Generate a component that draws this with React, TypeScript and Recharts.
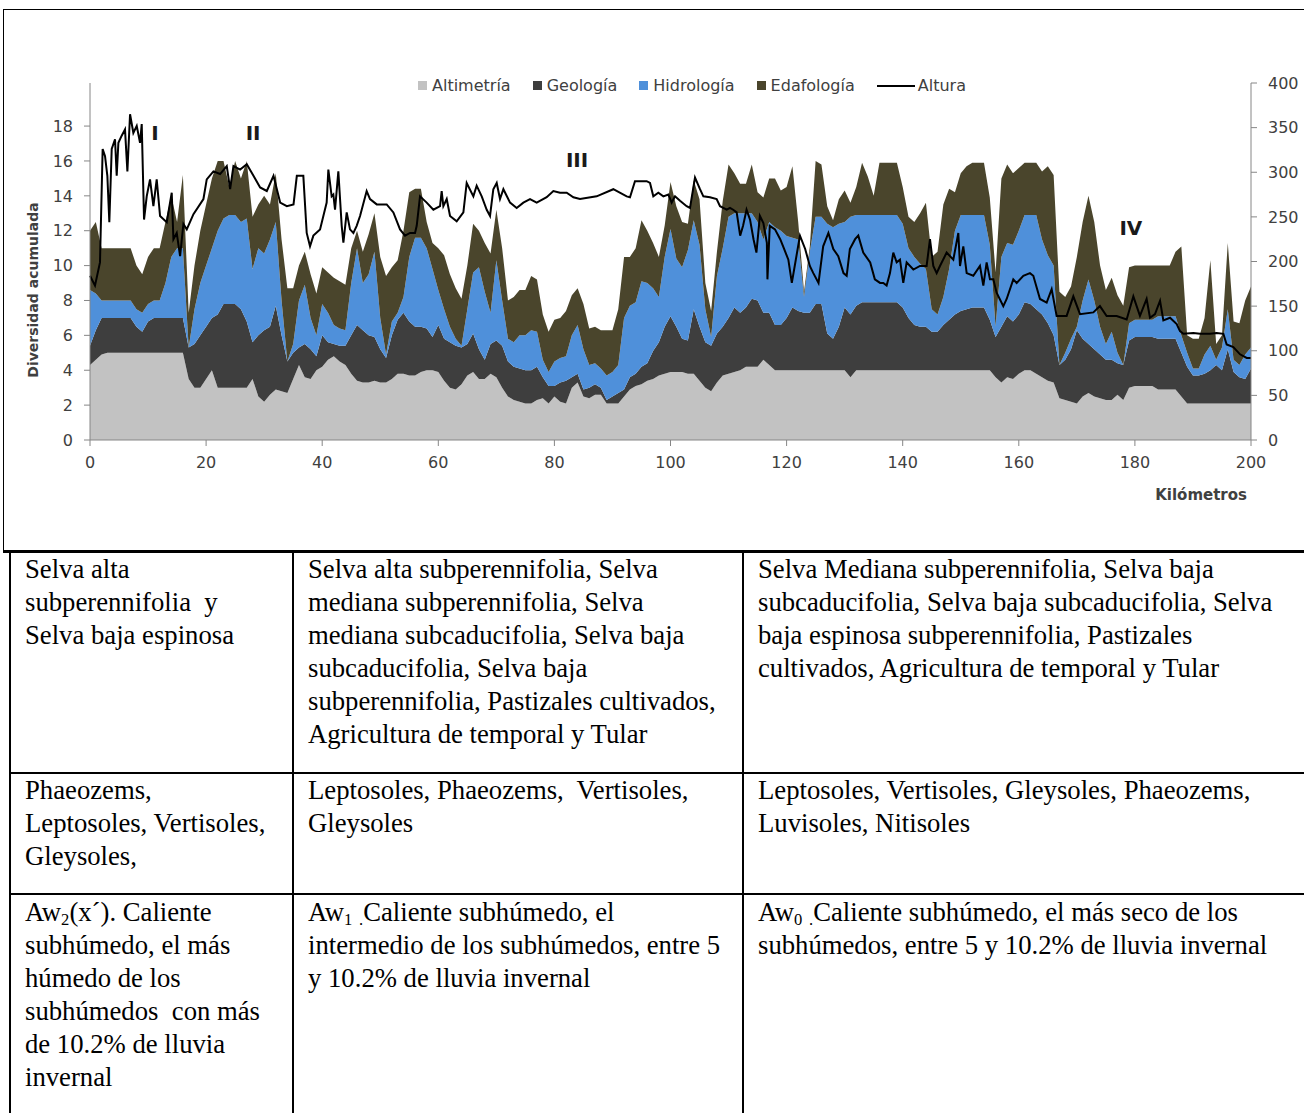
import React from 'react';
import { ComposedChart, Area, Line, XAxis, YAxis, Legend, ReferenceDot } from 'recharts';

// Kilómetros 0..200 (step 1 km) for the stacked layers
const KM: number[] = Array.from({ length: 201 }, (_, i) => i);

const ALTIMETRIA = [
  4.3,4.6,4.9,5,5,5,5,5,5,5,
  5,5,5,5,5,5,5,3.5,3,3,
  3.5,4,3,3,3,3,3,3,3.5,2.5,
  2.2,2.6,2.9,2.8,2.7,3.5,4.3,3.6,3.5,4,
  4.2,4.6,4.8,4.5,4.3,3.8,3.4,3.3,3.3,3.4,
  3.3,3.3,3.5,3.8,3.8,3.7,3.7,3.9,4,4,
  3.9,3.4,3,2.9,3.2,3.7,3.9,3.5,3.5,3.8,
  3.6,3,2.5,2.3,2.2,2.1,2.1,2.3,2.4,2.1,
  2.5,2.2,2.1,3,3.3,2.5,2.4,2.6,2.6,2.1,
  2.1,2.1,2.5,2.9,3.1,3.2,3.4,3.5,3.7,3.8,
  3.9,3.9,3.9,3.8,3.8,3.4,3,2.8,3.3,3.7,
  3.8,3.9,4,4.2,4.2,4.2,4.6,4.3,4,4,
  4,4,4,4,4,4,4,4,4,4,
  4,3.6,4,4,4,4,4,4,4,4,
  4,4,4,4,4,4,4,4,4,4,
  4,4,4,4,4,4,3.6,3.3,3.6,3.5,
  3.8,4,4,3.8,3.6,3.4,3.3,2.4,2.3,2.2,
  2.1,2.5,2.7,2.5,2.4,2.3,2.3,2.6,2.3,3,
  3.1,3.1,3.1,3.1,2.9,2.9,2.9,2.9,2.5,2.1,
  2.1,2.1,2.1,2.1,2.1,2.1,2.1,2.1,2.1,2.1,2.1,
];

const GEOLOGIA = [
  1.1,1.7,2.1,2,2,2,2,2,1.5,1.2,
  1.8,2,2,2,2,2,2,1.8,2.5,3,
  3,3,4.2,4.8,4.8,4.8,4.5,3.8,2.1,3.5,
  4.1,3.9,4.8,3.2,1.8,1.5,1,1.9,1.7,0.8,
  1.8,1,0.7,0.9,1.1,2.2,3.2,3,2.7,2.5,
  1.9,1.4,2.5,3.1,3.5,3.1,2.8,2.6,2.4,1.9,
  2.7,2.4,2.6,2.5,2.1,1.8,2.2,1.7,1.1,1.7,
  2.1,2.4,2,1.9,1.9,1.9,1.9,1.9,1.2,1,
  0.6,1.1,1.3,0.6,0.5,0.4,0.6,0.6,0.4,0.2,
  0.4,0.6,0.4,0.7,0.7,1,1,1.6,1.9,2.7,
  3.2,2.6,1.9,1.9,3.7,3.1,2.6,2.6,2.8,2.8,
  3.2,3.7,3.3,3.4,3.9,3.8,2.7,3,2.6,2.6,
  3,3.6,3.4,3.3,3.3,3.8,3.8,2.1,1.8,2.5,
  3.6,3.6,3.7,3.9,3.9,3.9,3.9,3.9,3.9,3.9,
  3.6,3,2.6,2.5,2.5,2.2,2.2,2.6,2.9,3.2,
  3.4,3.5,3.6,3.6,3.6,2.9,2.3,3.2,3.5,3.3,
  3.4,3.9,3.8,3.7,3.6,3.3,2.7,1.9,2.3,3,
  4.2,3.3,2.8,2.7,2.5,2.3,2.3,1.8,2,2.7,
  2.8,2.8,2.8,2.8,2.9,2.9,2.9,2.9,2.5,2.1,
  1.6,1.6,1.7,1.9,2.2,1.9,3.1,1.8,1.5,1.4,2,
];

const HIDROLOGIA = [
  3.2,2.1,1,1,1,1,1,1,1,1.1,
  1,1,1,2,3.5,4,4,0,2,3,
  3.5,4,4.8,4.9,5.1,5.1,5,5.9,4.2,5,
  4.4,5,4.8,2,0,0.5,2.7,3.4,1.8,1.2,
  1.8,1.7,1.1,1,0.9,3,4.4,2.7,3.5,4.9,
  1.8,0.2,0.8,0.4,0.9,3.7,5.1,5.1,4.6,3.9,
  2,1.7,0.9,0.4,0.1,2,3.5,4.7,3.9,1.8,
  4.6,2.6,1.3,1.4,1.9,2,2.3,2,1,0.8,
  1.4,1.4,1.4,2.4,2.8,2.3,1.3,1.2,1.1,1.4,
  1.4,1.6,4.1,4.1,4.1,4.9,4.6,3.6,2.6,4,
  5,3.9,4.1,5.2,5.1,4.7,1.9,0.5,3.3,4.5,
  5.8,5.4,5.7,5.4,4.9,4.5,4.2,5.2,5.6,5.4,
  4.7,4,4.1,0.9,3.5,5,5,6.3,6.4,5.9,
  4.9,5.6,5.2,5,5,5,5,5,5,5,
  4.8,4,3.9,3.6,3.3,1.3,1,1.6,2.9,4.8,
  5.5,5.4,5.3,5.3,5.3,4.3,0.6,4,4.2,4.4,
  4.8,5,5.1,5.4,4.3,3.9,4,0,0.4,0.6,
  0.2,2.2,3.7,2.8,1.6,0.9,1.6,0.6,0,1,
  1,1,1,1,1.3,1.3,1.3,1.3,1,0.8,
  0.4,0.4,1.1,1.4,0.3,1.3,2.3,0.7,0.7,1.4,1.2,
];

const EDAFOLOGIA = [
  3.4,4.1,3,3,3,3,3,3,2.5,2.2,
  2.7,3,3,3.5,3.5,1.5,4.2,2,2.5,3,
  3.5,4,4,3.3,1.6,3.1,2.5,3.3,3,2.5,
  3.3,2,2.8,3.5,4.2,3.2,2,1.9,2.5,2.4,
  2.1,2.3,2.7,2.7,2.6,2,1,1.8,2.3,2.2,
  3.5,4.5,3.1,3,3.8,3.7,2.8,2.8,1.5,1.5,
  2.4,3.1,3,2.9,2.7,2.5,2.8,2.1,2.8,3.4,
  2.9,3,2.2,2.6,2.6,2.6,3.1,3,2.6,2.3,
  2.4,2.3,2.6,2.3,2.1,2.6,2.1,2.1,2.2,2.6,
  2.4,3.2,3.5,2.8,3.1,3.5,3,2.6,2.3,1.8,
  2.7,3,2.6,1.5,2.3,2.6,1.5,1.5,1.4,2.7,
  3,2.3,1.7,1.7,2.8,1.7,2.4,2.5,2.8,2.3,
  2.8,4.1,1,0.3,0.3,3.2,3,1,0.4,1.4,
  1.8,0.8,1.6,3,2.2,1.1,3,3,3,3,
  2.1,1.8,2,2.9,3.8,3,3.6,5.3,4.6,2.2,
  2.4,2.8,3,3,3,2.7,3.1,4.5,4.5,4.1,
  3.6,3,3,3,3.9,5.1,5.2,4.2,3.2,3,
  4,4.5,4.8,4.5,3.5,3.1,3.1,3.3,3.4,3.2,
  3.1,3.1,3.1,3.1,2.9,2.9,2.9,3.7,5.1,1,
  1.7,1.7,2.1,4.9,0.9,0.7,3.8,2.2,2.4,3.1,3.5,
];

// Altura (m): profile read at irregular kilometre positions
const ALTURA_KM = [
  0,0.86,1.72,2.18,2.59,2.99,3.33,3.74,4.31,4.6,4.89,5.46,6.03,6.44,6.9,7.47,8.05,8.62,8.91,9.31,
  9.77,10.34,10.92,11.49,12.07,13.22,14.08,14.37,14.94,15.52,16.09,16.67,17.82,19.54,20.11,21.26,22.41,23.56,24.14,24.71,
  25.86,27.01,28.16,29.31,30.46,31.61,32.76,33.91,35.06,35.63,36.18,36.75,37.33,37.9,38.48,39.63,40.2,40.77,41.06,41.63,
  41.92,42.21,42.78,43.36,43.65,44.22,44.79,45.37,45.94,46.52,47.66,48.24,49.39,51.11,52.26,53.41,54.27,55.13,55.99,56.28,
  56.85,58,59.15,60.3,60.58,60.87,61.45,62.02,63.17,64.32,64.89,66.04,66.61,67.48,68.34,68.91,69.48,70.06,70.63,71.21,
  72.36,73.5,74.65,75.8,76.95,78.67,79.82,80.97,82.12,83.27,84.41,87.28,90.15,92.45,93.02,93.88,95.89,96.47,97.04,97.9,
  98.77,99.63,100.2,100.78,101.64,102.78,103.36,104.22,105.08,105.66,106.8,107.95,108.53,109.68,110.25,110.8,111.4,112,112.5,113.1,
  113.7,114.3,114.8,115.4,116,116.6,116.7,117.1,118,118.9,119.4,120.3,120.9,121.4,122.3,123.2,124,124.6,125.5,126.3,
  127.2,128.05,128.9,129.8,130.35,130.9,131.8,132.35,133.2,134.4,135.2,136.1,136.66,137.23,137.81,138.38,138.96,139.53,140.1,140.68,
  141.83,142.98,144.12,144.7,145.27,145.85,146.42,147.57,148.72,149.58,149.87,150.44,151.02,152.16,153.31,153.89,154.46,155.03,155.61,156.18,
  157.33,157.91,159.05,159.63,160.78,161.92,162.5,163.65,164.8,165.66,166.52,168.24,169.39,170.54,172.84,173.98,175.13,176.86,178.58,179.73,
  180.87,182.02,182.6,183.46,184.33,184.9,186.05,187.2,187.77,188.35,190.07,191.22,192.94,194.09,195.24,195.81,196.96,198.11,199.26,200,
];
const ALTURA_M = [
  184,173,199,326,318,296,244,326,337,296,333,341,348,301,365,344,352,333,354,247,
  273,292,262,292,251,244,277,225,232,206,242,236,253,270,292,301,298,307,281,307,
  303,309,296,283,279,296,266,262,264,296,296,296,232,217,229,236,251,266,303,273,
  275,258,301,240,221,255,236,232,240,251,279,270,264,264,255,236,229,232,232,240,
  273,266,258,262,279,262,270,251,245,255,288,273,285,273,258,251,281,288,270,281,
  266,260,266,270,266,272,279,277,277,272,270,273,281,273,272,290,290,288,273,277,
  273,275,266,273,268,262,260,294,281,273,272,270,262,258,260,258,255,229,240,258,
  247,225,210,251,243,221,180,240,236,225,217,202,176,195,229,214,195,187,176,217,
  232,214,206,187,184,214,225,229,210,199,180,176,176,173,187,210,199,202,176,199,
  191,195,195,225,195,187,195,210,202,232,195,217,187,184,195,173,199,180,180,165,
  150,158,180,176,184,187,184,158,154,169,139,139,161,141,143,150,139,139,135,161,
  139,158,137,141,156,134,137,130,122,119,120,119,119,120,119,107,104,96,92,92,
];

const X_TICKS = [0, 20, 40, 60, 80, 100, 120, 140, 160, 180, 200];
const LEFT_TICKS = [0, 2, 4, 6, 8, 10, 12, 14, 16, 18];
const RIGHT_TICKS = [0, 50, 100, 150, 200, 250, 300, 350, 400];

const ZONES = [
  { label: 'I', km: 11.2, v: 17.6 },
  { label: 'II', km: 28.1, v: 17.6 },
  { label: 'III', km: 83.9, v: 16.05 },
  { label: 'IV', km: 179.3, v: 12.15 },
];

const SERIES = [
  { key: 'alt', name: 'Altimetría', color: '#C2C2C2' },
  { key: 'geo', name: 'Geología', color: '#3E3E3E' },
  { key: 'hid', name: 'Hidrología', color: '#4F90DA' },
  { key: 'eda', name: 'Edafología', color: '#4A452C' },
];

const data = KM.map((km, i) => ({
  km,
  alt: ALTIMETRIA[i],
  geo: GEOLOGIA[i],
  hid: HIDROLOGIA[i],
  eda: EDAFOLOGIA[i],
}));

const alturaData = ALTURA_KM.map((km, i) => ({ km, altura: ALTURA_M[i] }));

const FONT = '"DejaVu Sans", sans-serif';
const SERIF = '"Liberation Serif", "Times New Roman", serif';
const TXT = '#404040';

const LegendContent = () => (
  <div style={{ display: 'flex', alignItems: 'center', fontFamily: FONT, fontSize: 16, color: TXT, whiteSpace: 'nowrap' }}>
    {SERIES.map((s) => (
      <span key={s.key} style={{ display: 'flex', alignItems: 'center', marginRight: 22 }}>
        <span style={{ display: 'inline-block', width: 9, height: 9, background: s.color, marginRight: 5 }} />
        {s.name}
      </span>
    ))}
    <span style={{ display: 'flex', alignItems: 'center' }}>
      <span style={{ display: 'inline-block', width: 38, height: 2, background: '#000', marginRight: 3 }} />
      Altura
    </span>
  </div>
);

const XLabel = (props: any) => {
  const vb = props.viewBox || {};
  return (
    <text x={vb.x + vb.width - 4} y={vb.y + 60} textAnchor="end" fontFamily={FONT} fontSize={15} fontWeight="bold" fill={TXT}>
      Kilómetros
    </text>
  );
};

const YLabel = () => (
  <text x={33} y={290} transform="rotate(-90, 33, 290)" textAnchor="middle" dominantBaseline="central" fontFamily={FONT} fontSize={14} fontWeight="bold" fill={TXT}>
    Diversidad acumulada
  </text>
);

const cell = (left: number, top: number): React.CSSProperties => ({
  position: 'absolute',
  left,
  top,
  fontFamily: SERIF,
  fontSize: 26.7,
  lineHeight: '33px',
  color: '#000',
  whiteSpace: 'nowrap',
});

const subStyle: React.CSSProperties = { fontSize: '0.62em', verticalAlign: 'baseline', position: 'relative', top: '0.25em', lineHeight: 0 };

const line = (left: number, top: number, width: number, height: number): React.CSSProperties => ({
  position: 'absolute', left, top, width, height, background: '#000',
});

export default function App() {
  return (
    <div style={{ position: 'absolute', left: 0, top: 0, width: 1304, height: 1113, overflow: 'hidden', background: '#fff' }}>
      {/* chart frame */}
      <div style={line(3, 9, 1301, 1)} />
      <div style={line(3, 9, 1, 541)} />

      <div style={{ position: 'absolute', left: 0, top: 0 }}>
        <ComposedChart width={1304} height={550} data={data} margin={{ top: 83, right: 3, left: 30, bottom: 80 }}>
          <XAxis
            dataKey="km"
            type="number"
            domain={[0, 200]}
            ticks={X_TICKS}
            interval={0}
            tick={{ fontSize: 16, fill: TXT, fontFamily: FONT }}
            tickSize={6}
            tickMargin={11}
            stroke="#868686"
            height={30}
            label={<XLabel />}
          />
          <YAxis
            yAxisId="left"
            domain={[0, 20.47]}
            ticks={LEFT_TICKS}
            interval={0}
            allowDataOverflow
            tick={{ fontSize: 16, fill: TXT, fontFamily: FONT }}
            tickSize={6}
            tickMargin={11}
            stroke="#868686"
            width={60}
            label={<YLabel />}
          />
          <YAxis
            yAxisId="right"
            orientation="right"
            domain={[0, 400]}
            ticks={RIGHT_TICKS}
            interval={0}
            tick={{ fontSize: 16, fill: TXT, fontFamily: FONT }}
            tickSize={6}
            tickMargin={11}
            stroke="#868686"
            width={50}
          />
          <Legend
            layout="horizontal"
            verticalAlign="middle"
            align="center"
            wrapperStyle={{ top: 76, left: 418, width: 'auto' }}
            content={<LegendContent />}
          />
          {SERIES.map((s) => (
            <Area
              key={s.key}
              yAxisId="left"
              type="linear"
              dataKey={s.key}
              name={s.name}
              stackId="a"
              stroke="none"
              fill={s.color}
              fillOpacity={1}
              isAnimationActive={false}
            />
          ))}
          <Line
            yAxisId="right"
            data={alturaData}
            type="linear"
            dataKey="altura"
            name="Altura"
            stroke="#000"
            strokeWidth={2}
            dot={false}
            activeDot={false}
            isAnimationActive={false}
          />
          {ZONES.map((z) => (
            <ReferenceDot
              key={z.label}
              yAxisId="left"
              x={z.km}
              y={z.v}
              r={0}
              fill="none"
              stroke="none"
              ifOverflow="visible"
              label={{ value: z.label, position: 'center', fontSize: 20, fontWeight: 'bold', fill: '#1a1a1a', fontFamily: FONT }}
            />
          ))}
        </ComposedChart>
      </div>

      {/* table lines */}
      <div style={line(3, 550, 1301, 3)} />
      <div style={line(9, 550, 2, 563)} />
      <div style={line(292, 550, 2, 563)} />
      <div style={line(742, 550, 2, 563)} />
      <div style={line(9, 772, 1295, 2)} />
      <div style={line(9, 893, 1295, 2)} />

      {/* row 1 */}
      <div style={cell(25, 553)}>Selva alta<br />subperennifolia&nbsp; y<br />Selva baja espinosa</div>
      <div style={cell(308, 553)}>
        Selva alta subperennifolia, Selva<br />mediana subperennifolia, Selva<br />mediana subcaducifolia, Selva baja<br />subcaducifolia, Selva baja<br />subperennifolia, Pastizales cultivados,<br />Agricultura de temporal y Tular
      </div>
      <div style={cell(758, 553)}>
        Selva Mediana subperennifolia, Selva baja<br />subcaducifolia, Selva baja subcaducifolia, Selva<br />baja espinosa subperennifolia, Pastizales<br />cultivados, Agricultura de temporal y Tular
      </div>

      {/* row 2 */}
      <div style={cell(25, 774)}>Phaeozems,<br />Leptosoles, Vertisoles,<br />Gleysoles,</div>
      <div style={cell(308, 774)}>Leptosoles, Phaeozems,&nbsp; Vertisoles,<br />Gleysoles</div>
      <div style={cell(758, 774)}>Leptosoles, Vertisoles, Gleysoles, Phaeozems,<br />Luvisoles, Nitisoles</div>

      {/* row 3 */}
      <div style={cell(25, 896)}>
        Aw<span style={subStyle}>2</span>(x´). Caliente<br />subhúmedo, el más<br />húmedo de los<br />subhúmedos&nbsp; con más<br />de 10.2% de lluvia<br />invernal
      </div>
      <div style={cell(308, 896)}>
        Aw<span style={subStyle}>1</span> <span style={subStyle}>.</span>Caliente subhúmedo, el<br />intermedio de los subhúmedos, entre 5<br />y 10.2% de lluvia invernal
      </div>
      <div style={cell(758, 896)}>
        Aw<span style={subStyle}>0</span> <span style={subStyle}>.</span>Caliente subhúmedo, el más seco de los<br />subhúmedos, entre 5 y 10.2% de lluvia invernal
      </div>
    </div>
  );
}
